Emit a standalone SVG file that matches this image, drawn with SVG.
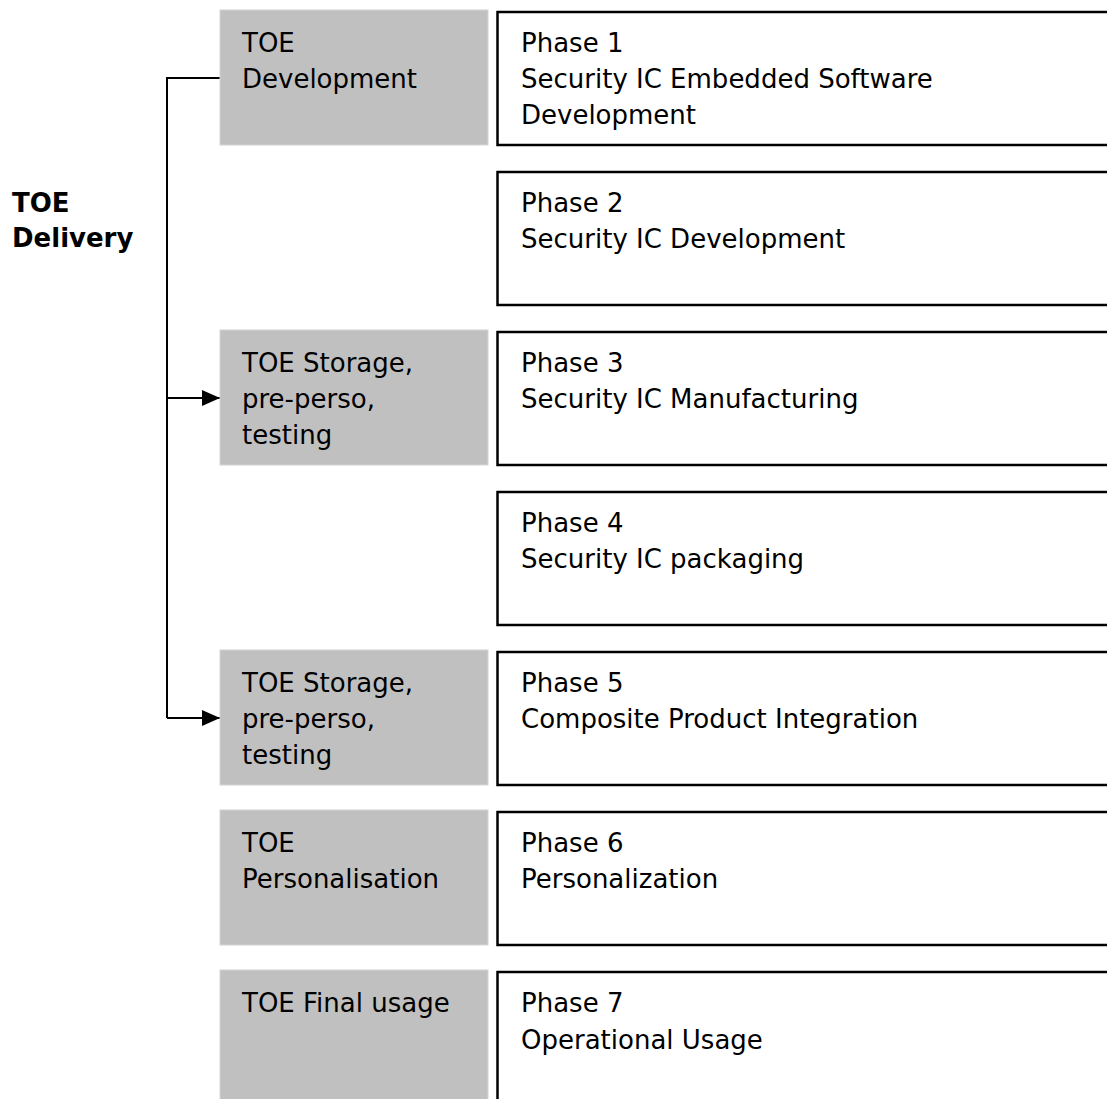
<svg xmlns="http://www.w3.org/2000/svg" width="1107" height="1099" viewBox="0 0 1107 1099">
<style>
  .stage { fill: #c0c0c0; stroke: #d4d4d4; stroke-width: 1; }
  .phase { fill: #ffffff; stroke: #000000; stroke-width: 2.5; }
  .t { font-family: "DejaVu Sans", Verdana, sans-serif; font-size: 26px; fill: #000000; }
  .b { font-family: "DejaVu Sans", Verdana, sans-serif; font-size: 26px; font-weight: bold; fill: #000000; }
  .conn { fill: none; stroke: #000000; stroke-width: 2; }
</style>
<defs>
  <marker id="arrow" markerUnits="userSpaceOnUse" markerWidth="18" markerHeight="16" refX="18" refY="8" orient="auto">
    <path d="M0,0 L18,8 L0,16 Z" fill="#000000"/>
  </marker>
</defs>
<rect x="0" y="0" width="1107" height="1099" fill="#ffffff"/>

<g id="toe-delivery">
  <text class="b" x="12" y="212">TOE</text>
  <text class="b" x="12" y="247">Delivery</text>
</g>

<g id="connectors">
  <path class="conn" d="M220,78 H167 V718"/>
  <path class="conn" d="M167,398 H220" marker-end="url(#arrow)"/>
  <path class="conn" d="M167,718 H220" marker-end="url(#arrow)"/>
</g>

<g id="stage-development">
  <rect class="stage" x="220" y="10" width="268" height="135"/>
  <text class="t" x="242" y="52">TOE</text>
  <text class="t" x="242" y="88">Development</text>
</g>
<g id="stage-storage-1">
  <rect class="stage" x="220" y="330" width="268" height="135"/>
  <text class="t" x="242" y="372">TOE Storage,</text>
  <text class="t" x="242" y="408">pre-perso,</text>
  <text class="t" x="242" y="444">testing</text>
</g>
<g id="stage-storage-2">
  <rect class="stage" x="220" y="650" width="268" height="135"/>
  <text class="t" x="242" y="692">TOE Storage,</text>
  <text class="t" x="242" y="728">pre-perso,</text>
  <text class="t" x="242" y="764">testing</text>
</g>
<g id="stage-personalisation">
  <rect class="stage" x="220" y="810" width="268" height="135"/>
  <text class="t" x="242" y="852">TOE</text>
  <text class="t" x="242" y="888">Personalisation</text>
</g>
<g id="stage-final">
  <rect class="stage" x="220" y="970" width="268" height="140"/>
  <text class="t" x="242" y="1012">TOE Final usage</text>
</g>

<g id="phase-1">
  <rect class="phase" x="497.5" y="12" width="630" height="133"/>
  <text class="t" x="521" y="52">Phase 1</text>
  <text class="t" x="521" y="88">Security IC Embedded Software</text>
  <text class="t" x="521" y="124">Development</text>
</g>
<g id="phase-2">
  <rect class="phase" x="497.5" y="172" width="630" height="133"/>
  <text class="t" x="521" y="212">Phase 2</text>
  <text class="t" x="521" y="248">Security IC Development</text>
</g>
<g id="phase-3">
  <rect class="phase" x="497.5" y="332" width="630" height="133"/>
  <text class="t" x="521" y="372">Phase 3</text>
  <text class="t" x="521" y="408">Security IC Manufacturing</text>
</g>
<g id="phase-4">
  <rect class="phase" x="497.5" y="492" width="630" height="133"/>
  <text class="t" x="521" y="532">Phase 4</text>
  <text class="t" x="521" y="568">Security IC packaging</text>
</g>
<g id="phase-5">
  <rect class="phase" x="497.5" y="652" width="630" height="133"/>
  <text class="t" x="521" y="692">Phase 5</text>
  <text class="t" x="521" y="728">Composite Product Integration</text>
</g>
<g id="phase-6">
  <rect class="phase" x="497.5" y="812" width="630" height="133"/>
  <text class="t" x="521" y="852">Phase 6</text>
  <text class="t" x="521" y="888">Personalization</text>
</g>
<g id="phase-7">
  <rect class="phase" x="497.5" y="972" width="630" height="140"/>
  <text class="t" x="521" y="1012">Phase 7</text>
  <text class="t" x="521" y="1049">Operational Usage</text>
</g>
</svg>
